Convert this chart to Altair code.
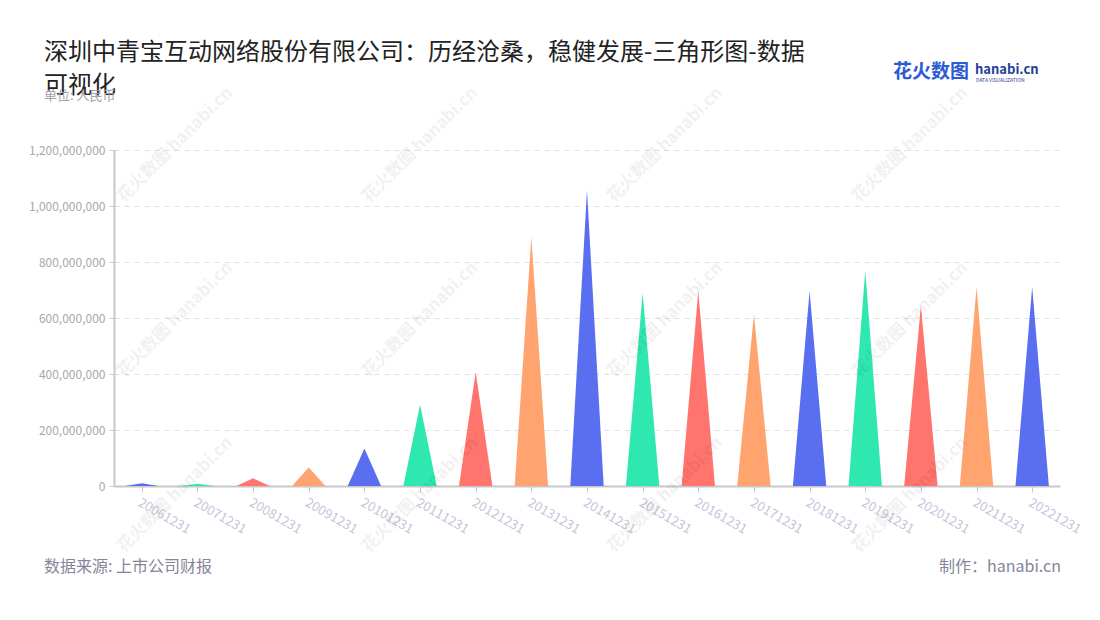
import altair as alt
import pandas as pd

# ---- data ----
dates = ['20061231', '20071231', '20081231', '20091231', '20101231', '20111231',
         '20121231', '20131231', '20141231', '20151231', '20161231', '20171231',
         '20181231', '20191231', '20201231', '20211231', '20221231']
values = [9.4e6, 8.0e6, 27.5e6, 66e6, 134e6, 290e6, 406e6, 889e6, 1056e6, 689e6,
          696e6, 613e6, 696e6, 768e6, 643e6, 712e6, 711e6]
palette = ['#5a6ff0', '#2ee8b0', '#ff746d', '#ffa46f']
y_ticks = [0, 200e6, 400e6, 600e6, 800e6, 1000e6, 1200e6]

title_lines = ['深圳中青宝互动网络股份有限公司：历经沧桑，稳健发展-三角形图-数据', '可视化']
subtitle = '单位: 人民币'
source = '数据来源: 上市公司财报'
maker = '制作：hanabi.cn'

FONT = 'Noto Sans CJK SC'
HALF = 0.3  # half of triangle base, in category steps

rows = []
for i, (d, v) in enumerate(zip(dates, values)):
    for dx, yy in ((-HALF, 0.0), (0.0, v), (HALF, 0.0)):
        rows.append({'date': d, 'pos': float(i + dx), 'val': float(yy)})
tri = pd.DataFrame(rows)

colors = [palette[i % len(palette)] for i in range(len(dates))]
label_expr = '[' + ','.join("'%s'" % d for d in dates) + '][round(datum.value)]'

W, H = 946, 336

bars = alt.Chart(tri).mark_area(line=False).encode(
    x=alt.X('pos:Q', scale=alt.Scale(domain=[-0.5, len(dates) - 0.5], nice=False, zero=False),
            axis=alt.Axis(values=list(range(len(dates))), labelExpr=label_expr, title=None,
                          grid=False, labelAngle=30, labelAlign='left', labelBaseline='top',
                          labelColor='#c3c6d9', labelFontSize=13, labelFont=FONT,
                          labelPadding=4, tickColor='#c8c8c8', tickSize=6,
                          domainColor='#c8c8c8', domainWidth=2, labelOverlap=False,
                          labelFlush=False, labelBound=False)),
    y=alt.Y('val:Q', stack=None, scale=alt.Scale(domain=[0, 1.2e9], nice=False),
            axis=alt.Axis(values=y_ticks, format=',d', title=None, labelColor='#a8a8a8',
                          labelFontSize=12, labelFont=FONT, gridDash=[5, 5],
                          gridColor='#e0e0e0', domainColor='#c8c8c8', domainWidth=2,
                          tickColor='#c8c8c8', tickSize=5, labelPadding=4)),
    color=alt.Color('date:N', scale=alt.Scale(domain=dates, range=colors), legend=None),
)


def txt(t, x, y, size, color, align='left', weight='normal', angle=0, opacity=1.0, baseline='middle'):
    return alt.Chart(pd.DataFrame({'t': [t]})).mark_text(
        align=align, baseline=baseline, fontSize=size, font=FONT, color=color,
        fontWeight=weight, angle=angle, opacity=opacity,
    ).encode(x=alt.value(x), y=alt.value(y), text='t:N')


OX, OY = 114, 150  # page position of plot origin

layers = [bars]
# faint watermarks
for cx in (175, 420, 665, 910):
    for cy in (145, 320, 495):
        layers.append(txt('花火数图 hanabi.cn', cx - OX, cy - OY, 17, '#000000',
                          align='center', weight='bold', angle=315, opacity=0.05))

layers += [
    txt(title_lines[0], 44 - OX, 53 - OY, 24, '#222222'),
    txt(title_lines[1], 44 - OX, 86 - OY, 24, '#222222'),
    txt(subtitle, 44 - OX, 96 - OY, 13, '#a0a0a8'),
    txt(source, 44 - OX, 567 - OY, 16, '#85859a'),
    txt(maker, 1061 - OX, 567 - OY, 16, '#85859a', align='right'),
    txt('花火数图', 893 - OX, 72 - OY, 19, '#2b5bd6', weight='bold'),
    txt('hanabi.cn', 975 - OX, 70 - OY, 13, '#23409a', weight='bold'),
    txt('DATA VISUALIZATION', 976 - OX, 80 - OY, 5, '#23409a'),
]

chart = alt.layer(*layers).properties(
    width=W, height=H,
    autosize=alt.AutoSizeParams(type='none'),
    padding={'left': OX - 8, 'top': OY - 8, 'right': 30, 'bottom': 100},
).configure(background='white').configure_view(stroke='transparent', strokeWidth=0)

chart.save('out.html', embed_options={'renderer': 'svg', 'actions': False})
